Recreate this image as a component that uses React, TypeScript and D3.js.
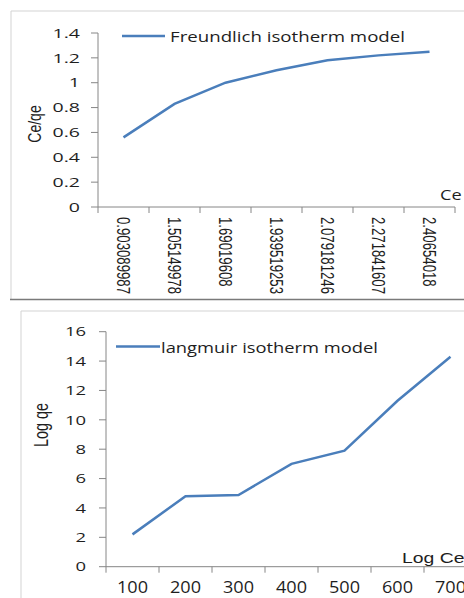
import * as d3 from 'd3';

// top chart: Freundlich
const freundlichCe = ['0.903089987', '1.505149978', '1.69019608', '1.939519253', '2.079181246', '2.271841607', '2.40654018'];
const freundlichValues = [0.56, 0.83, 1.0, 1.1, 1.18, 1.22, 1.25];
const freundlichTicks = [0, 0.2, 0.4, 0.6, 0.8, 1, 1.2, 1.4];

// bottom chart: Langmuir
const langmuirCe = ['100', '200', '300', '400', '500', '600', '700'];
const langmuirValues = [2.2, 4.8, 4.88, 7.0, 7.9, 11.3, 14.3];
const langmuirTicks = [0, 2, 4, 6, 8, 10, 12, 14, 16];

const W = 464;
const H = 598;
const BLUE = '#4a7ebb';
const AXIS = '#868686';
const TXT = '#1e1e1e';
const FRAME = '#d3d3d3';

// the reference is stretched sideways, so text gets a horizontal scale
const Label = ({ x, y, text, size, sx = 1, anchor = 'start', rot = 0, family = 'Open Sans', dy = '0', len, weight = 400 }: any) => (
  <text
    transform={`translate(${x},${y}) scale(${sx},1) rotate(${rot})`}
    fontFamily={family}
    fontSize={size}
    fontWeight={weight}
    textAnchor={anchor}
    dy={dy}
    fill={TXT}
    textLength={len}
    lengthAdjust={len ? 'spacingAndGlyphs' : undefined}
  >
    {text}
  </text>
);

const App = () => {
  const xTop = d3.scaleBand().domain(freundlichCe).range([98, 455]);
  const yTop = d3.scaleLinear().domain([0, 1.4]).range([207, 33]);
  const xBot = d3.scaleBand().domain(langmuirCe).range([106, 477]);
  const yBot = d3.scaleLinear().domain([0, 16]).range([566.7, 331.7]);

  const lineTop = d3.line<number>()
    .x((_, i) => xTop(freundlichCe[i])! + xTop.bandwidth() / 2)
    .y((d) => yTop(d));
  const lineBot = d3.line<number>()
    .x((_, i) => xBot(langmuirCe[i])! + xBot.bandwidth() / 2)
    .y((d) => yBot(d));

  const topBounds = [...freundlichCe.map((c) => xTop(c)!), xTop.range()[1]];
  const botBounds = [...langmuirCe.map((c) => xBot(c)!), xBot.range()[1]];

  return (
    <svg width={W} height={H} style={{ position: 'absolute', left: 0, top: 0, background: '#fff' }}>
      {/* frames */}
      <line x1={11} y1={11} x2={W} y2={11} stroke={FRAME} />
      <line x1={11} y1={11} x2={11} y2={299} stroke={FRAME} />
      <line x1={10} y1={299.5} x2={W} y2={299.5} stroke="#7a7a7a" strokeWidth={1.5} />
      <line x1={21} y1={311} x2={W} y2={311} stroke={FRAME} />
      <line x1={21} y1={311} x2={21} y2={H} stroke={FRAME} />

      {/* ---- Freundlich ---- */}
      <line x1={98} y1={yTop(0)} x2={98} y2={yTop(1.4)} stroke={AXIS} />
      {freundlichTicks.map((t) => (
        <g key={t}>
          <line x1={91} x2={98} y1={yTop(t)} y2={yTop(t)} stroke={AXIS} />
          <Label x={80} y={yTop(t)} text={String(t)} size={13} sx={1.5} anchor="end" dy="0.36em" weight={500} />
        </g>
      ))}
      <line x1={98} y1={yTop(0)} x2={455} y2={yTop(0)} stroke={AXIS} />
      {topBounds.map((b, i) => (
        <line key={i} x1={b} x2={b} y1={yTop(0)} y2={yTop(0) + 6} stroke={AXIS} />
      ))}
      {freundlichCe.map((c) => (
        <Label key={c} x={xTop(c)! + xTop.bandwidth() / 2} y={217} text={c} size={13.2} sx={1.4} rot={90} dy="0.35em" family="Liberation Sans" />
      ))}
      <path d={lineTop(freundlichValues)!} fill="none" stroke={BLUE} strokeWidth={2.5} />
      <Label x={34} y={124} text="Ce/qe" size={14} sx={1.35} rot={-90} anchor="middle" dy="0.35em" family="Liberation Sans" />
      <Label x={440} y={200} text="Ce" size={14} sx={1.3} weight={500} />
      <line x1={122} x2={165} y1={36} y2={36} stroke={BLUE} strokeWidth={2.5} />
      <Label x={170} y={41.5} text="Freundlich isotherm model" size={15} len={235} weight={500} />

      {/* ---- Langmuir ---- */}
      <line x1={106} y1={yBot(0)} x2={106} y2={yBot(16)} stroke={AXIS} />
      {langmuirTicks.map((t) => (
        <g key={t}>
          <line x1={99} x2={106} y1={yBot(t)} y2={yBot(t)} stroke={AXIS} />
          <Label x={86} y={yBot(t)} text={String(t)} size={13} sx={1.42} anchor="end" dy="0.36em" weight={500} />
        </g>
      ))}
      <line x1={106} y1={yBot(0)} x2={W} y2={yBot(0)} stroke={AXIS} />
      {botBounds.map((b, i) => (
        <line key={i} x1={b} x2={b} y1={yBot(0)} y2={yBot(0) + 6} stroke={AXIS} />
      ))}
      {langmuirCe.map((c) => (
        <Label key={c} x={xBot(c)! + xBot.bandwidth() / 2} y={593} text={c} size={16} sx={1.13} anchor="middle" weight={500} />
      ))}
      <path d={lineBot(langmuirValues)!} fill="none" stroke={BLUE} strokeWidth={2.5} />
      <Label x={41} y={425} text="Log qe" size={14.4} sx={1.35} rot={-90} anchor="middle" dy="0.35em" family="Liberation Sans" />
      <Label x={402} y={563} text="Log Ce" size={15.5} sx={1.25} family="Liberation Sans" />
      <line x1={116} x2={160} y1={346.5} y2={346.5} stroke={BLUE} strokeWidth={2.5} />
      <Label x={161} y={352.5} text="langmuir isotherm model" size={14} len={217} weight={500} />
    </svg>
  );
};

export default App;
